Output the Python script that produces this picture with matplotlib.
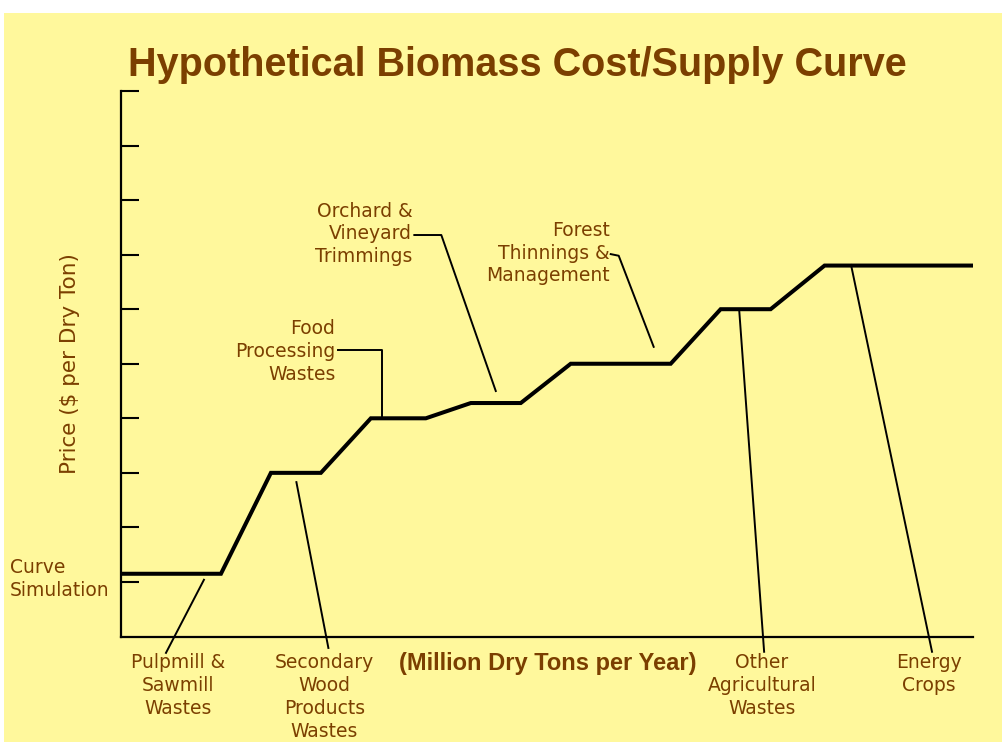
import matplotlib.pyplot as plt
from matplotlib.patches import Rectangle

# cost/supply curve (x: million dry tons/yr, y: price units)
supply = [0, 2, 3, 4, 5, 6.1, 7, 8, 9, 11, 12, 13, 14.08, 17.05]
price = [1.15, 1.15, 3.0, 3.0, 4.0, 4.0, 4.28, 4.28, 5.0, 5.0, 6.0, 6.0, 6.8, 6.8]
ytick_vals = [1, 2, 3, 4, 5, 6, 7, 8, 9, 10]

# labels: text, text position, alignment, leader line points
labels = ["Pulpmill &\nSawmill\nWastes",
          "Secondary\nWood\nProducts\nWastes",
          "Food\nProcessing\nWastes",
          "Orchard &\nVineyard\nTrimmings",
          "Forest\nThinnings &\nManagement",
          "Other\nAgricultural\nWastes",
          "Energy\nCrops"]
label_pos = [(1.14, -0.31), (4.07, -0.31), (4.29, 5.22), (5.83, 7.38),
             (9.78, 7.03), (12.83, -0.31), (16.17, -0.31)]
label_ha = ["center", "center", "right", "right", "right", "center", "center"]
label_va = ["top", "top", "center", "center", "center", "top", "top"]
leader_x = [[1.66, 0.90], [3.51, 4.15], [4.35, 5.23, 5.23], [5.87, 6.41, 7.50],
            [9.80, 9.96, 10.66], [12.37, 12.87], [14.61, 16.23]]
leader_y = [[1.04, -0.30], [2.83, -0.21], [5.25, 5.25, 4.04], [7.36, 7.36, 4.50],
            [7.01, 6.98, 5.31], [6.00, -0.28], [6.81, -0.28]]

brown = "#7b3f00"
yellow = "#fff89c"

fig = plt.figure(figsize=(10.02, 7.42), dpi=100, facecolor="white")
fig.patches.append(Rectangle((4 / 1002, 0), 1, 1 - 13 / 742, transform=fig.transFigure,
                             facecolor=yellow, edgecolor="none", zorder=-10))
ax = fig.add_axes([121 / 1002, 1 - 636.5 / 742, 852 / 1002, 545.5 / 742])
ax.set_facecolor("none")

ax.plot(supply, price, color="black", lw=2.9, solid_joinstyle="miter")

for xs, ys in zip(leader_x, leader_y):
    ax.plot(xs, ys, color="black", lw=1.4, clip_on=False)

for txt, (tx, ty), ha, va in zip(labels, label_pos, label_ha, label_va):
    ax.text(tx, ty, txt, color=brown, ha=ha, va=va, multialignment=ha,
            fontsize=13.5, family="DejaVu Sans", linespacing=1.25, clip_on=False)

ax.text(-2.22, 1.05, "Curve\nSimulation", color=brown, ha="left", va="center",
        fontsize=13.5, family="DejaVu Sans", linespacing=1.25)

ax.text(8.54, -0.5, "(Million Dry Tons per Year)", color=brown, ha="center", va="center",
        fontsize=17, fontweight="bold", family="Liberation Sans")

ax.set_ylabel("Price ($ per Dry Ton)", color=brown, fontsize=15.5, family="DejaVu Sans",
              labelpad=26)

fig.text(517 / 1002, 1 - 65 / 742, "Hypothetical Biomass Cost/Supply Curve", color=brown,
         ha="center", va="center", fontsize=28.5, fontweight="bold", family="Liberation Sans")

ax.set_xlim(0, 17.05)
ax.set_ylim(0, 10)
ax.set_xticks([])
ax.set_yticks(ytick_vals)
ax.set_yticklabels([])
ax.tick_params(axis="y", direction="in", length=13, width=1.5, color="black")
for s in ["top", "right"]:
    ax.spines[s].set_visible(False)
for s in ["left", "bottom"]:
    ax.spines[s].set_linewidth(1.6)
    ax.spines[s].set_color("black")

fig.savefig("out.png", dpi=100, facecolor=fig.get_facecolor())
